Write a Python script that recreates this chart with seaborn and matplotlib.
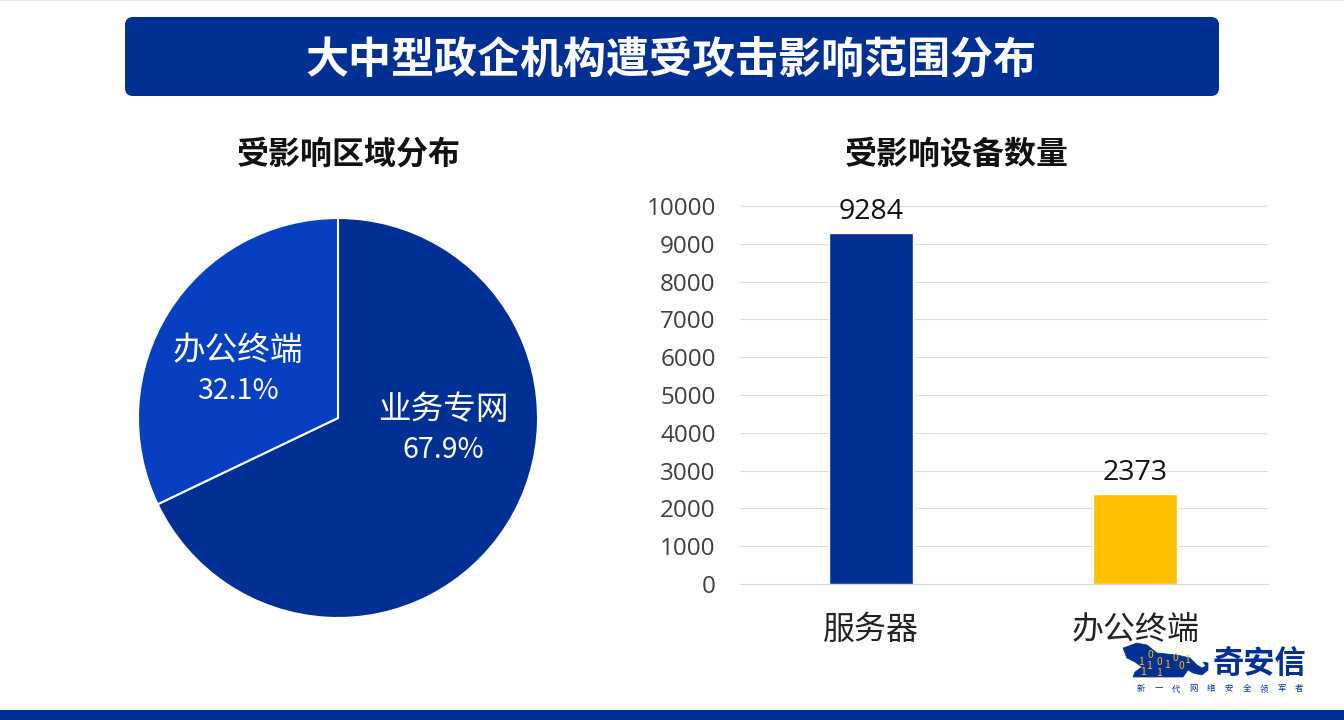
import numpy as np
import pandas as pd
import seaborn as sns
import matplotlib
from matplotlib import pyplot as plt
from matplotlib.patches import FancyBboxPatch, Rectangle, Polygon

sns.set_theme(style='white')
plt.rcParams['font.family'] = ['Noto Sans CJK SC', 'DejaVu Sans']

NAVY = '#003094'
BLUE = '#063FC0'
YELLOW = '#FFC000'

title = '大中型政企机构遭受攻击影响范围分布'
pie_title = '受影响区域分布'
bar_title = '受影响设备数量'

area_names = ['业务专网', '办公终端']
area_shares = [67.9, 32.1]

device_names = ['服务器', '办公终端']
device_counts = [9284, 2373]
count_ticks = [0, 1000, 2000, 3000, 4000, 5000, 6000, 7000, 8000, 9000, 10000]

W, H = 1344, 720
fig = plt.figure(figsize=(W / 100, H / 100), dpi=100, facecolor='white')

def px_axes(x0, y0, x1, y1):
    return fig.add_axes([x0 / W, 1 - y1 / H, (x1 - x0) / W, (y1 - y0) / H])

# page layer, in pixel coordinates
bg = fig.add_axes([0, 0, 1, 1])
bg.set_xlim(0, W)
bg.set_ylim(H, 0)
bg.axis('off')
bg.add_patch(Rectangle((0, 0), W, 1, color='#E6E6E6', lw=0))
bg.add_patch(Rectangle((0, 710), W, 10, color=NAVY, lw=0))
bg.add_patch(FancyBboxPatch((125, 17), 1094, 79, boxstyle='round,pad=0,rounding_size=8',
                            mutation_aspect=1, fc=NAVY, ec='none', lw=0))
bg.text(671, 60, title, color='white', fontsize=31, fontweight='bold', ha='center', va='center')
bg.text(349, 155, pie_title, color='#111111', fontsize=23, fontweight='bold', ha='center', va='center')
bg.text(957, 155, bar_title, color='#111111', fontsize=23, fontweight='bold', ha='center', va='center')

# pie
ax_pie = px_axes(138, 218, 538, 618)
ax_pie.pie(area_shares, colors=[NAVY, BLUE], startangle=90, counterclock=False, radius=1,
           wedgeprops={'edgecolor': 'white', 'linewidth': 1.5})
ax_pie.set_xlim(-1, 1)
ax_pie.set_ylim(-1, 1)
ax_pie.text(0.525, 0.04, area_names[0], color='white', fontsize=23.5, ha='center', va='center')
ax_pie.text(0.525, -0.16, f'{area_shares[0]}%', color='white', fontsize=20.5, ha='center', va='center')
ax_pie.text(-0.5, 0.335, area_names[1], color='white', fontsize=23.5, ha='center', va='center')
ax_pie.text(-0.5, 0.135, f'{area_shares[1]}%', color='white', fontsize=20.5, ha='center', va='center')

# bars
ax_bar = px_axes(740, 206, 1268, 584)
df = pd.DataFrame({'device': device_names, 'count': device_counts})
sns.barplot(data=df, x='device', y='count', hue='device', palette=[NAVY, YELLOW],
            width=0.316, legend=False, saturation=1, ax=ax_bar, zorder=3)
ax_bar.set_xlim(-0.497, 1.503)
ax_bar.set_ylim(0, 10000)
ax_bar.set_yticks(count_ticks)
ax_bar.set_xlabel('')
ax_bar.set_ylabel('')
ax_bar.grid(axis='y', color='#DDDDDD', lw=0.8)
ax_bar.set_axisbelow(True)
sns.despine(ax=ax_bar, left=True, top=True, right=True)
ax_bar.spines['bottom'].set_color('#D9D9D9')
ax_bar.spines['bottom'].set_linewidth(0.8)
ax_bar.tick_params(axis='both', length=0)
ax_bar.tick_params(axis='y', pad=17.5)
ax_bar.tick_params(axis='x', pad=21.5)
for lab in ax_bar.get_yticklabels():
    lab.set_fontfamily(['Open Sans', 'DejaVu Sans'])
    lab.set_fontsize(17.5)
    lab.set_color('#404040')
for lab in ax_bar.get_xticklabels():
    lab.set_fontsize(23)
    lab.set_color('#222222')
for i, v in enumerate(device_counts):
    ax_bar.annotate(str(v), (i, v), xytext=(0, 5), textcoords='offset points', ha='center', va='bottom',
                    fontsize=20.5, color='#111111', family=['Open Sans', 'DejaVu Sans'], zorder=5)

# logo
bg.add_patch(Polygon([(1123, 648), (1137, 643), (1147, 645), (1157, 653), (1177, 655), (1190, 658),
                      (1197, 665), (1202, 668), (1206, 666), (1203, 662), (1208, 663), (1208, 670),
                      (1202, 675), (1193, 673), (1188, 670), (1183, 677), (1133, 677), (1135, 672),
                      (1142, 667), (1135, 662), (1127, 658)], fc=NAVY, ec=NAVY, lw=0.5, zorder=6))
for x, y, d in [(1141, 662, '1'), (1143, 672, '1'), (1149, 666, '1'), (1150, 655, '0'), (1159, 662, '0'),
                (1159, 673, '1'), (1167, 665, '1'), (1175, 658, '0'), (1181, 666, '0'), (1187, 660, '1')]:
    bg.text(x, y, d, color=YELLOW, fontsize=7.5, ha='center', va='center', zorder=7)
bg.text(1259, 665, '奇安信', color=NAVY, fontsize=22.5, fontweight='bold', ha='center', va='center', zorder=7)
for i, ch in enumerate('新一代网络安全领军者'):
    bg.text(1141 + i * 17.6, 689, ch, color=NAVY, fontsize=6, ha='center', va='center', zorder=7)

fig.savefig('out.png', dpi=100, facecolor='white')
